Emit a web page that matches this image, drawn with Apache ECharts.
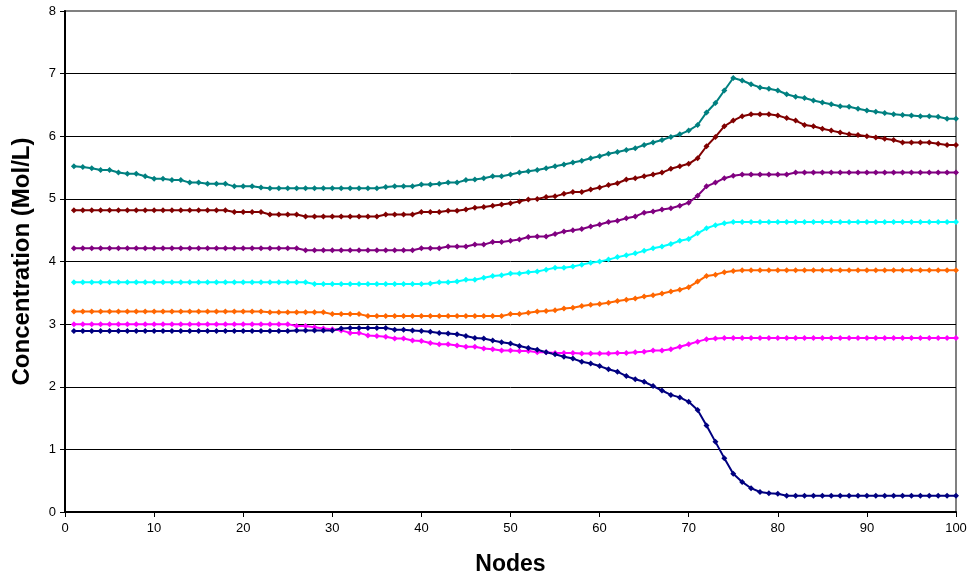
<!DOCTYPE html>
<html>
<head>
<meta charset="utf-8">
<script src="https://cdn.jsdelivr.net/npm/echarts@6/dist/echarts.min.js"></script>
<style>html,body{margin:0;padding:0;background:#fff;}#c{width:972px;height:581px;}</style>
</head>
<body>
<div id="c"></div>
<script>
var nodes = [];
for (var i = 1; i <= 100; i++) nodes.push(i);

var teal = [5.52,5.51,5.49,5.46,5.46,5.42,5.40,5.40,5.36,5.32,
5.32,5.30,5.30,5.26,5.26,5.24,5.24,5.24,5.20,5.20,
5.20,5.18,5.17,5.17,5.17,5.17,5.17,5.17,5.17,5.17,
5.17,5.17,5.17,5.17,5.17,5.19,5.20,5.20,5.20,5.23,
5.23,5.24,5.26,5.26,5.30,5.31,5.33,5.36,5.36,5.39,
5.42,5.44,5.46,5.49,5.52,5.55,5.58,5.61,5.65,5.68,
5.72,5.75,5.78,5.81,5.86,5.90,5.94,5.99,6.03,6.09,
6.18,6.38,6.53,6.73,6.93,6.89,6.83,6.78,6.76,6.73,
6.67,6.63,6.61,6.57,6.54,6.51,6.48,6.47,6.44,6.41,
6.39,6.37,6.35,6.34,6.33,6.32,6.32,6.31,6.28,6.28];

var maroon = [4.82,4.82,4.82,4.82,4.82,4.82,4.82,4.82,4.82,4.82,
4.82,4.82,4.82,4.82,4.82,4.82,4.82,4.82,4.79,4.79,
4.79,4.79,4.75,4.75,4.75,4.75,4.72,4.72,4.72,4.72,
4.72,4.72,4.72,4.72,4.72,4.75,4.75,4.75,4.75,4.79,
4.79,4.79,4.81,4.81,4.83,4.86,4.87,4.89,4.91,4.93,
4.96,4.99,5.00,5.03,5.04,5.08,5.11,5.11,5.15,5.18,
5.22,5.25,5.31,5.33,5.36,5.39,5.42,5.48,5.52,5.56,
5.65,5.84,5.99,6.16,6.25,6.32,6.35,6.35,6.35,6.33,
6.29,6.25,6.18,6.16,6.12,6.09,6.06,6.03,6.02,6.00,
5.98,5.96,5.94,5.90,5.90,5.90,5.90,5.88,5.86,5.86];

var purple = [4.21,4.21,4.21,4.21,4.21,4.21,4.21,4.21,4.21,4.21,
4.21,4.21,4.21,4.21,4.21,4.21,4.21,4.21,4.21,4.21,
4.21,4.21,4.21,4.21,4.21,4.21,4.18,4.18,4.18,4.18,
4.18,4.18,4.18,4.18,4.18,4.18,4.18,4.18,4.18,4.21,
4.21,4.21,4.24,4.24,4.24,4.27,4.27,4.31,4.31,4.33,
4.35,4.39,4.40,4.40,4.44,4.48,4.50,4.52,4.56,4.59,
4.63,4.65,4.69,4.72,4.78,4.80,4.83,4.85,4.89,4.94,
5.05,5.20,5.26,5.33,5.37,5.39,5.39,5.39,5.39,5.39,
5.39,5.42,5.42,5.42,5.42,5.42,5.42,5.42,5.42,5.42,
5.42,5.42,5.42,5.42,5.42,5.42,5.42,5.42,5.42,5.42];

var cyan = [3.67,3.67,3.67,3.67,3.67,3.67,3.67,3.67,3.67,3.67,
3.67,3.67,3.67,3.67,3.67,3.67,3.67,3.67,3.67,3.67,
3.67,3.67,3.67,3.67,3.67,3.67,3.67,3.64,3.64,3.64,
3.64,3.64,3.64,3.64,3.64,3.64,3.64,3.64,3.64,3.64,
3.65,3.67,3.67,3.68,3.71,3.71,3.74,3.77,3.78,3.81,
3.81,3.83,3.84,3.87,3.90,3.90,3.92,3.95,3.98,4.00,
4.03,4.07,4.10,4.13,4.17,4.21,4.24,4.28,4.33,4.36,
4.45,4.53,4.58,4.61,4.63,4.63,4.63,4.63,4.63,4.63,
4.63,4.63,4.63,4.63,4.63,4.63,4.63,4.63,4.63,4.63,
4.63,4.63,4.63,4.63,4.63,4.63,4.63,4.63,4.63,4.63];

var orange = [3.20,3.20,3.20,3.20,3.20,3.20,3.20,3.20,3.20,3.20,
3.20,3.20,3.20,3.20,3.20,3.20,3.20,3.20,3.20,3.20,
3.20,3.20,3.19,3.19,3.19,3.19,3.19,3.19,3.19,3.16,
3.16,3.16,3.16,3.13,3.13,3.13,3.13,3.13,3.13,3.13,
3.13,3.13,3.13,3.13,3.13,3.13,3.13,3.13,3.13,3.16,
3.16,3.18,3.20,3.21,3.22,3.25,3.26,3.29,3.31,3.32,
3.34,3.37,3.39,3.41,3.44,3.46,3.49,3.52,3.55,3.59,
3.68,3.77,3.79,3.83,3.85,3.86,3.86,3.86,3.86,3.86,
3.86,3.86,3.86,3.86,3.86,3.86,3.86,3.86,3.86,3.86,
3.86,3.86,3.86,3.86,3.86,3.86,3.86,3.86,3.86,3.86];

var magenta = [3.00,3.00,3.00,3.00,3.00,3.00,3.00,3.00,3.00,3.00,
3.00,3.00,3.00,3.00,3.00,3.00,3.00,3.00,3.00,3.00,
3.00,3.00,3.00,3.00,3.00,2.97,2.97,2.95,2.93,2.92,
2.90,2.86,2.86,2.82,2.81,2.80,2.77,2.77,2.74,2.73,
2.70,2.68,2.68,2.66,2.64,2.64,2.61,2.60,2.58,2.58,
2.57,2.57,2.55,2.55,2.54,2.54,2.54,2.53,2.53,2.53,
2.53,2.54,2.54,2.55,2.56,2.58,2.58,2.60,2.64,2.68,
2.72,2.76,2.77,2.78,2.78,2.78,2.78,2.78,2.78,2.78,
2.78,2.78,2.78,2.78,2.78,2.78,2.78,2.78,2.78,2.78,
2.78,2.78,2.78,2.78,2.78,2.78,2.78,2.78,2.78,2.78];

var navy = [2.89,2.89,2.89,2.89,2.89,2.89,2.89,2.89,2.89,2.89,
2.89,2.89,2.89,2.89,2.89,2.89,2.89,2.89,2.89,2.89,
2.89,2.89,2.89,2.89,2.89,2.90,2.90,2.90,2.90,2.90,
2.93,2.94,2.94,2.94,2.94,2.94,2.91,2.91,2.90,2.89,
2.88,2.86,2.85,2.84,2.81,2.78,2.77,2.74,2.71,2.69,
2.65,2.62,2.59,2.55,2.52,2.48,2.45,2.40,2.37,2.33,
2.28,2.24,2.17,2.12,2.08,2.01,1.94,1.87,1.83,1.76,
1.63,1.38,1.12,0.86,0.61,0.48,0.38,0.32,0.30,0.29,
0.26,0.26,0.26,0.26,0.26,0.26,0.26,0.26,0.26,0.26,
0.26,0.26,0.26,0.26,0.26,0.26,0.26,0.26,0.26,0.26];

var seriesList = [
  {name: 'S1', values: teal, color: '#008080'},
  {name: 'S2', values: maroon, color: '#800000'},
  {name: 'S3', values: purple, color: '#800080'},
  {name: 'S4', values: cyan, color: '#00FFFF'},
  {name: 'S5', values: orange, color: '#FF6600'},
  {name: 'S6', values: magenta, color: '#FF00FF'},
  {name: 'S7', values: navy, color: '#000080'}
];

var chart = echarts.init(document.getElementById('c'), null, {renderer: 'canvas'});
var font = 'Liberation Sans, Arial, sans-serif';
chart.setOption({
  animation: false,
  backgroundColor: '#fff',
  grid: {left: 65, right: 16, top: 11, bottom: 68, show: true, borderColor: '#808080', borderWidth: 2, backgroundColor: 'transparent'},
  xAxis: {
    type: 'value', min: 0, max: 100, interval: 10,
    name: 'Nodes', nameLocation: 'middle', nameGap: 41,
    nameTextStyle: {fontFamily: font, fontSize: 23, fontWeight: 'bold', color: '#000'},
    axisLine: {show: true, onZero: false, lineStyle: {color: '#000', width: 2}},
    axisTick: {show: true, length: 5, lineStyle: {color: '#000', width: 1}},
    axisLabel: {fontFamily: font, fontSize: 13, color: '#000', margin: 10},
    splitLine: {show: false}
  },
  yAxis: {
    type: 'value', min: 0, max: 8, interval: 1,
    name: 'Concentration (Mol/L)', nameLocation: 'middle', nameGap: 31, nameRotate: 90,
    nameTextStyle: {fontFamily: font, fontSize: 24, fontWeight: 'bold', color: '#000'},
    axisLine: {show: true, lineStyle: {color: '#000', width: 2}},
    axisTick: {show: true, length: 5, lineStyle: {color: '#000', width: 1}},
    axisLabel: {fontFamily: font, fontSize: 13, color: '#000', margin: 9},
    splitLine: {show: true, showMaxLine: false, lineStyle: {color: '#000', width: 1}}
  },
  series: seriesList.map(function (s) {
    return {
      name: s.name, type: 'line',
      data: s.values.map(function (v, i) { return [nodes[i], v]; }),
      symbol: 'diamond', symbolSize: 6, showSymbol: true,
      lineStyle: {color: s.color, width: 2},
      itemStyle: {color: s.color},
      z: 3
    };
  })
});
</script>
</body>
</html>
